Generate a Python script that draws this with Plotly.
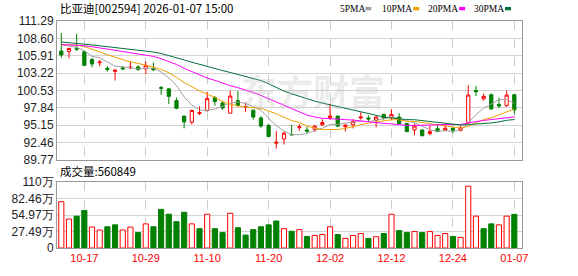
import plotly.graph_objects as go

# ---------------- data ----------------
dates = [
    "2025-10-14", "2025-10-15", "2025-10-16", "2025-10-17", "2025-10-20", "2025-10-21",
    "2025-10-22", "2025-10-23", "2025-10-24", "2025-10-27", "2025-10-28", "2025-10-29",
    "2025-10-30", "2025-10-31", "2025-11-03", "2025-11-04", "2025-11-05", "2025-11-06",
    "2025-11-07", "2025-11-10", "2025-11-11", "2025-11-12", "2025-11-13", "2025-11-14",
    "2025-11-17", "2025-11-18", "2025-11-19", "2025-11-20", "2025-11-21", "2025-11-24",
    "2025-11-25", "2025-11-26", "2025-11-27", "2025-11-28", "2025-12-01", "2025-12-02",
    "2025-12-03", "2025-12-04", "2025-12-05", "2025-12-08", "2025-12-09", "2025-12-10",
    "2025-12-11", "2025-12-12", "2025-12-15", "2025-12-16", "2025-12-17", "2025-12-18",
    "2025-12-19", "2025-12-22", "2025-12-23", "2025-12-24", "2025-12-25", "2025-12-26",
    "2025-12-29", "2025-12-30", "2025-12-31", "2026-01-05", "2026-01-06", "2026-01-07",
]

opens = [106.63, 106.57, 107.05, 106.52, 105.32, 104.82, 103.97, 103.47, 104.02, 104.02,
         104.17, 103.87, 103.92, 100.96, 100.76, 98.95, 96.54, 95.59, 96.94, 97.40,
         99.40, 98.55, 96.99, 98.95, 97.90, 97.45, 96.24, 95.09, 92.33, 92.98,
         93.68, 94.74, 94.39, 94.49, 95.19, 96.29, 96.54, 94.89, 95.19, 96.24,
         96.24, 95.89, 96.79, 96.29, 96.39, 95.39, 94.39, 94.39, 93.83, 94.59,
         94.34, 94.64, 94.34, 95.49, 100.51, 99.20, 99.85, 98.35, 98.15, 99.85]
highs = [109.43, 107.13, 109.30, 106.68, 105.57, 105.27, 104.27, 103.77, 104.32, 105.02,
         104.42, 105.02, 104.82, 101.21, 100.91, 99.40, 96.60, 97.55, 98.05, 100.30,
         99.65, 98.90, 100.51, 100.41, 98.65, 97.55, 96.54, 95.34, 94.23, 94.13,
         95.19, 95.29, 94.89, 95.14, 96.04, 98.50, 96.60, 95.29, 96.04, 97.14,
         96.64, 96.49, 96.94, 97.60, 96.99, 95.49, 95.39, 94.45, 95.04, 95.24,
         95.29, 94.89, 95.04, 101.31, 101.21, 100.00, 100.05, 99.40, 100.51, 99.90]
lows = [105.57, 105.52, 106.65, 104.27, 104.12, 104.27, 103.42, 102.06, 103.67, 103.82,
        103.52, 103.06, 103.52, 99.85, 98.40, 97.60, 94.64, 95.24, 96.69, 97.25,
        98.15, 97.50, 96.99, 97.98, 97.14, 95.99, 94.74, 93.28, 91.48, 92.13,
        93.58, 94.29, 93.93, 94.09, 94.99, 95.99, 94.79, 94.14, 94.64, 95.99,
        95.74, 94.79, 95.99, 95.89, 95.19, 94.04, 93.58, 93.43, 93.58, 94.04,
        94.19, 93.88, 94.14, 95.29, 99.65, 98.95, 97.50, 97.80, 97.98, 96.89]
closes = [106.02, 107.03, 106.93, 104.42, 104.62, 104.92, 103.77, 103.67, 103.87, 104.12,
          103.77, 104.42, 103.72, 100.86, 99.60, 97.75, 95.64, 97.40, 97.09, 99.25,
          98.80, 97.80, 99.65, 98.20, 98.00, 96.39, 94.99, 93.38, 92.48, 93.88,
          93.63, 94.89, 94.19, 94.99, 95.54, 96.54, 94.99, 95.14, 95.69, 96.39,
          96.09, 96.39, 96.19, 96.79, 95.39, 94.14, 94.99, 93.48, 94.14, 94.14,
          94.64, 94.34, 94.69, 99.80, 100.31, 99.60, 97.65, 98.10, 99.80, 97.50]
volumes = [772000, 483000, 531000, 627000, 349000, 300000, 354000, 386000, 300000, 349000,
           257000, 402000, 354000, 644000, 563000, 440000, 595000, 402000, 322000, 563000,
           322000, 257000, 579000, 338000, 215000, 306000, 354000, 386000, 450000, 322000,
           279000, 306000, 193000, 209000, 225000, 354000, 225000, 161000, 209000, 241000,
           161000, 188000, 241000, 563000, 290000, 257000, 274000, 257000, 274000, 209000,
           241000, 193000, 177000, 1030000, 531000, 322000, 402000, 386000, 531000, 560849]
pre_close = 105.60  # close of the session before the first shown day

# moving-average values before enough history is visible
ma5_head = [107.60, 107.45, 107.20, 106.70]
ma10_head = [107.63, 107.60, 107.55, 107.33, 106.95, 106.50, 106.05, 105.65, 105.30]
ma20_head = [107.65, 107.62, 107.58, 107.45, 107.30, 107.15, 106.95, 106.75, 106.55, 106.38,
             106.18, 106.02, 105.80, 105.45, 105.05, 104.55, 103.95, 103.43, 102.90]
ma30_head = [108.03, 107.95, 107.82, 107.70, 107.58, 107.45, 107.30, 107.15, 107.00, 106.88,
             106.75, 106.62, 106.48, 106.25, 105.95, 105.60, 105.25, 104.90, 104.55, 104.20,
             103.90, 103.60, 103.30, 103.00, 102.70, 102.40, 102.05, 101.55, 101.00]

tick_dates = ["2025-10-17", "2025-10-29", "2025-11-10", "2025-11-20",
              "2025-12-02", "2025-12-12", "2025-12-24", "2026-01-07"]
tick_labels = ["10-17", "10-29", "11-10", "11-20", "12-02", "12-12", "12-24", "01-07"]

price_ticks = [89.77, 92.46, 95.15, 97.84, 100.53, 103.22, 105.91, 108.60, 111.29]
vol_ticks = [0, 274862, 549725, 824587, 1099450]
vol_tick_text = ["0", "27.49万", "54.97万", "82.46万", "110万"]

title_text = "比亚迪[002594] 2026-01-07 15:00"
vol_label = "成交量:560849"
ma_names = ["5PMA", "10PMA", "20PMA", "30PMA"]
ma_colors = ["#a0a0a0", "#f0a000", "#ff00ff", "#00703a"]

RED = "#ff0000"
GREEN = "#008000"


def moving_average(vals, n, head):
    out = list(head)
    for i in range(len(head), len(vals)):
        out.append(sum(vals[i - n + 1:i + 1]) / n)
    return out


mas = [moving_average(closes, 5, ma5_head), moving_average(closes, 10, ma10_head),
       moving_average(closes, 20, ma20_head), moving_average(closes, 30, ma30_head)]

prev = [pre_close] + closes[:-1]
up_vol = [c >= p for c, p in zip(closes, prev)]
vol_fill = ["#ffffff" if u else GREEN for u in up_vol]
vol_line = [RED if u else GREEN for u in up_vol]

# ---------------- layout geometry (pixels) ----------------
W, H = 578, 276
L, R, T, B = 56, 56, 21, 21
plot_w = W - L - R
plot_h = H - T - B


def px(xp):
    return (xp - L) / plot_w


def py(yp):
    return (H - B - yp) / plot_h


fig = go.Figure()

fig.add_trace(go.Candlestick(
    x=dates, open=opens, high=highs, low=lows, close=closes,
    increasing=dict(line=dict(color=RED, width=1), fillcolor="#ffffff"),
    decreasing=dict(line=dict(color=GREEN, width=1), fillcolor=GREEN),
    whiskerwidth=0, xaxis="x", yaxis="y", showlegend=False, hoverinfo="skip",
))

for name, vals, col in zip(ma_names, mas, ma_colors):
    fig.add_trace(go.Scatter(x=dates, y=vals, mode="lines", name=name,
                             line=dict(color=col, width=1), xaxis="x", yaxis="y",
                             showlegend=False, hoverinfo="skip"))

fig.add_trace(go.Bar(x=dates, y=volumes, marker=dict(color=vol_fill, line=dict(color=vol_line, width=1)),
                     xaxis="x2", yaxis="y2", showlegend=False, hoverinfo="skip"))

xrange = [-0.56, 60.0]
axis_font = dict(family="Liberation Sans, Arial", size=12, color="#222222")
common_x = dict(type="category", categoryorder="array", categoryarray=dates, range=xrange,
                showline=True, mirror=True, linecolor="#999999", linewidth=1,
                tickmode="array", tickvals=tick_dates, showgrid=True, gridcolor="#cccccc",
                griddash="dash", gridwidth=1, ticks="", zeroline=False, fixedrange=True)

fig.update_layout(
    width=W, height=H,
    margin=dict(l=L, r=R, t=T, b=B),
    paper_bgcolor="#ffffff", plot_bgcolor="#ffffff",
    boxgap=0.4, bargap=0.33,
    xaxis=dict(common_x, anchor="y", showticklabels=False, rangeslider=dict(visible=False)),
    xaxis2=dict(common_x, anchor="y2", matches="x", ticktext=tick_labels, showticklabels=True,
                tickfont=dict(family="Liberation Sans, Arial", size=11, color=RED)),
    yaxis=dict(domain=[py(164), 1.0], range=[price_ticks[0], price_ticks[-1]],
               tickmode="array", tickvals=price_ticks, ticktext=[f"{v:.2f}" for v in price_ticks],
               showgrid=True, gridcolor="#d3d3d3", gridwidth=1, zeroline=False,
               showline=True, mirror=True, linecolor="#999999", linewidth=1,
               ticks="", tickfont=axis_font, fixedrange=True),
    yaxis2=dict(domain=[0.0, py(187)], range=[0, vol_ticks[-1]],
                tickmode="array", tickvals=vol_ticks, ticktext=vol_tick_text,
                showgrid=True, gridcolor="#d3d3d3", gridwidth=1, zeroline=False,
                showline=True, mirror=True, linecolor="#999999", linewidth=1,
                ticks="", tickfont=axis_font, fixedrange=True),
)

annotations = [
    dict(text="<b>东方财富</b>", x=px(238), y=py(92), xref="paper", yref="paper",
         xanchor="left", yanchor="middle", showarrow=False,
         font=dict(family="Noto Sans CJK SC", size=36, color="rgba(185,185,185,0.28)")),
    dict(text=title_text, x=px(57), y=py(8), xref="paper", yref="paper",
         xanchor="left", yanchor="middle", showarrow=False,
         font=dict(family="Noto Sans CJK SC", size=11.5, color="#000000")),
    dict(text=vol_label, x=px(57), y=py(176), xref="paper", yref="paper",
         xanchor="left", yanchor="middle", showarrow=False,
         font=dict(family="Noto Sans CJK SC", size=11.5, color="#000000")),
]
shapes = []
legend_text_x = [338, 380, 426, 472]
legend_box_x = [365, 413, 459, 505]
for name, col, tx, bx in zip(ma_names, ma_colors, legend_text_x, legend_box_x):
    annotations.append(dict(text=name, x=px(tx), y=py(8.5), xref="paper", yref="paper",
                            xanchor="left", yanchor="middle", showarrow=False,
                            font=dict(family="Liberation Serif", size=9.5, color="#000000")))
    shapes.append(dict(type="rect", xref="paper", yref="paper",
                       x0=px(bx), x1=px(bx + 6), y0=py(10), y1=py(6.5),
                       fillcolor=col, line=dict(width=0)))

fig.update_layout(annotations=annotations, shapes=shapes)

fig.write_html("out.html")
